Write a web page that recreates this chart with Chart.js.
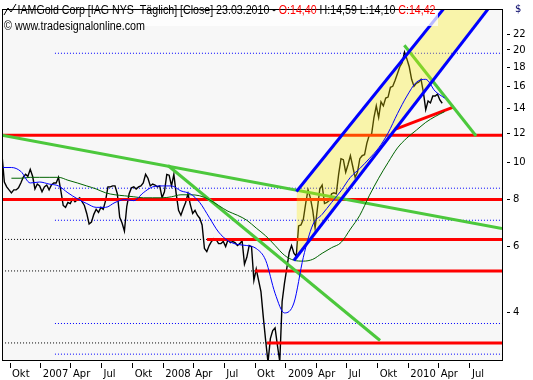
<!DOCTYPE html>
<html>
<head>
<meta charset="utf-8">
<script src="https://cdn.jsdelivr.net/npm/chart.js@4.4.1/dist/chart.umd.min.js"></script>
<style>
  html, body { margin: 0; padding: 0; background: #fff; }
  #wrap { width: 533px; height: 380px; }
</style>
</head>
<body>
<div id="wrap"><canvas id="chart" width="533" height="380"></canvas></div>
<script>
// x axis unit: weeks since the first bar
const xTickWeeks = [3.4, 16.5, 29.3, 42.3, 55.5, 68.5, 81.2, 94.4, 107.5, 120.6, 133.4, 146.4, 159.6, 172.6, 185.5, 198.8];
const xTickLabels = ['Okt', '2007', 'Apr', 'Jul', 'Okt', '2008', 'Apr', 'Jul', 'Okt', '2009', 'Apr', 'Jul', 'Okt', '2010', 'Apr', 'Jul'];
const yTicks = [4, 6, 8, 10, 12, 14, 16, 18, 20, 22];

// weekly closes
const priceClose = [
  10.51, 8.89, 8.63, 8.47, 8.32, 8.47, 8.47, 8.58, 8.84, 9.15,
  9.32, 9.21, 9.61, 9.21, 8.52, 8.78, 8.68, 8.37, 8.63, 8.73,
  8.47, 8.73, 8.84, 8.84, 9.15, 8.42, 7.70, 7.61, 7.84, 7.79,
  8.02, 7.88, 7.98, 8.07, 7.88, 7.70, 7.33, 6.87, 6.95, 7.29,
  7.52, 7.38, 7.61, 7.52, 7.93, 8.63, 8.63, 8.68, 8.68, 8.27,
  7.16, 6.91, 6.58, 7.65, 8.27, 8.58, 8.63, 8.52, 8.63, 8.68,
  8.84, 9.32, 9.10, 8.68, 8.78, 8.73, 8.63, 8.68, 8.07, 8.37,
  9.32, 9.27, 8.68, 9.32, 8.27, 7.47, 7.25, 7.56, 7.84, 8.27,
  7.74, 7.33, 7.47, 7.25, 7.12, 6.83, 5.91, 5.80, 6.02, 6.17,
  6.28, 6.24, 6.09, 6.09, 6.17, 5.98, 6.24, 6.13, 6.17, 6.13,
  6.02, 6.09, 6.20, 5.37, 5.60, 6.02, 5.98, 4.86, 5.21, 4.86,
  4.54, 3.88, 3.36, 2.94, 3.40, 3.57, 3.63, 3.26, 2.95, 4.27,
  4.78, 5.24, 5.77, 6.02, 5.74, 5.63, 6.79, 6.83, 7.07, 7.79,
  8.47, 8.07, 7.47, 6.70, 7.56, 8.52, 8.73, 7.79, 7.84, 7.93,
  8.27, 8.32, 8.27, 9.32, 10.26, 10.20, 9.44, 9.90, 10.45, 9.78,
  9.15, 9.44, 10.26, 10.45, 10.51, 11.29, 11.85, 11.92, 13.21, 14.19,
  13.21, 14.54, 14.19, 14.89, 14.98, 15.91, 16.00, 16.60, 17.30, 18.04,
  18.49, 19.75, 18.93, 18.04, 16.70, 16.00, 16.30, 16.40, 16.70, 15.44,
  13.86, 14.63, 14.45, 15.07, 15.07, 15.25, 14.72, 14.42
];

// moving averages, one value every 4 weeks
const maWeekStep = 4;
const maBlue = [
  9.72, 9.72, 9.49, 8.84, 8.89, 8.78, 8.68, 8.32, 8.02, 7.79,
  7.61, 7.61, 7.84, 7.98, 7.93, 8.32, 8.63, 8.68, 8.68, 8.42,
  8.27, 7.84, 7.16, 6.54, 6.20, 6.06, 6.02, 5.91, 5.50, 4.49,
  3.98, 4.23, 5.60, 6.83, 7.29, 7.84, 8.42, 9.15, 9.66, 10.26,
  10.96, 12.01, 13.53, 15.07, 16.40, 16.70, 15.53, 14.89
];
const maGreen = [
  null, 9.10, 9.10, 9.15, 9.15, 9.15, 9.15, 8.99, 8.84, 8.68,
  8.52, 8.32, 8.22, 8.17, 8.12, 8.07, 8.07, 8.07, 8.12, 8.22,
  8.22, 8.17, 7.98, 7.70, 7.43, 7.25, 7.03, 6.70, 6.39, 6.02,
  5.67, 5.50, 5.47, 5.53, 5.74, 5.94, 6.13, 6.66, 7.25, 8.17,
  9.10, 10.02, 10.96, 11.65, 12.22, 12.82, 13.29, 13.69
];

// drawn lines: [startWeek, startPrice, endWeek, endPrice]
const greenTrends = [
  [0, 11.85, 212.4, 6.68],
  [70.5, 9.84, 160.6, 3.36],
  [170.9, 20.59, 201.4, 11.79]
];
const channelUpper = [125.1, 8.39, 211.6, 39.6];
const channelLower = [124.0, 5.49, 211.6, 28.3];
const supportLine = [166.9, 12.29, 192.0, 14.10];

// horizontal levels
const redLevels = [11.85, 7.99, 6.25, 5.15, 3.31];
const redFromWeek = [0, 0, 87.1, 107.5, 112.6];
const fibLevels = [19.6, 8.56, 7.03, 3.73, 3.09];
const fibFromWeek = 22.5;
const lastWeek = 212.4;

Chart.defaults.font.family = '"DejaVu Sans", sans-serif';

const seg = (a) => [{ x: a[0], y: a[1] }, { x: a[2], y: a[3] }];
const line = (data, color, width, order, extra) => Object.assign({
  data: data,
  borderColor: color,
  borderWidth: width,
  pointRadius: 0,
  fill: false,
  tension: 0,
  order: order,
  clip: 0
}, extra || {});

const datasets = [];

fibLevels.forEach((v) => {
  datasets.push(line(seg([fibFromWeek, v, lastWeek, v]), '#0000ff', 1, 7, { borderDash: [1, 2] }));
});
redLevels.forEach((v, i) => {
  if (redFromWeek[i] > 0) {
    datasets.push(line(seg([1.3, v, redFromWeek[i], v]), '#000000', 1, 7, { borderDash: [1, 2] }));
  }
});

datasets.push(line(priceClose.map((v, i) => ({ x: i, y: v })), '#000000', 1.4, 6));

redLevels.forEach((v, i) => {
  datasets.push(line(seg([redFromWeek[i], v, lastWeek, v]), '#ff0000', 3, 5));
});
datasets.push(line(seg(supportLine), '#ff0000', 3, 5));

greenTrends.forEach((t) => {
  datasets.push(line(seg(t), '#4cc83c', 3, 4));
});

// yellow channel area, filled between the two channel lines
datasets.push(line(seg(channelUpper), 'rgba(0,0,0,0)', 0, 3, {
  fill: '+1',
  backgroundColor: 'rgba(255,240,0,0.31)'
}));
datasets.push(line(seg(channelLower), 'rgba(0,0,0,0)', 0, 3));

datasets.push(line(maGreen.map((v, k) => ({ x: k * maWeekStep, y: v })), '#006400', 1, 2, { cubicInterpolationMode: 'monotone' }));
datasets.push(line(maBlue.map((v, k) => ({ x: k * maWeekStep, y: v })), '#0000ff', 1, 1, { cubicInterpolationMode: 'monotone' }));

datasets.push(line(seg(channelUpper), '#0000ff', 3, 0));
datasets.push(line(seg(channelLower), '#0000ff', 3, 0));

const framePlugin = {
  id: 'frame',
  beforeDraw(chart) {
    const { ctx, chartArea: a } = chart;
    ctx.save();
    ctx.fillStyle = '#ffffff';
    ctx.fillRect(0, 0, chart.width, chart.height);
    ctx.fillStyle = '#f7f7f7';
    ctx.fillRect(a.left, a.top, a.right - a.left, a.bottom - a.top);
    ctx.restore();
  },
  afterDraw(chart) {
    const { ctx, chartArea: a } = chart;
    ctx.save();
    ctx.strokeStyle = '#000000';
    ctx.lineWidth = 1;
    ctx.strokeRect(a.left + 0.5, a.top + 0.5, a.right - a.left, a.bottom - a.top);

    // header box
    ctx.fillStyle = 'rgba(255,255,255,0.72)';
    ctx.fillRect(a.left + 1, a.top + 1, 435, 16);

    // small chart icon
    ctx.strokeStyle = '#000000';
    ctx.beginPath();
    ctx.moveTo(4, 15);
    ctx.lineTo(8, 8);
    ctx.lineTo(11, 12);
    ctx.lineTo(16, 4);
    ctx.stroke();

    const parts = [
      ['IAMGold Corp [IAG NYS  Täglich] [Close] 23.03.2010 - ', '#000000'],
      ['O:14,40', '#ff0000'],
      [' H:14,59 L:14,10 ', '#000000'],
      ['C:14,42', '#ff0000']
    ];
    ctx.font = '12px "Liberation Sans"';
    ctx.textBaseline = 'alphabetic';
    const total = parts.reduce((s, p) => s + ctx.measureText(p[0]).width, 0);
    ctx.translate(17.5, 14);
    ctx.scale(418 / total, 1);
    let x = 0;
    parts.forEach((p) => {
      ctx.fillStyle = p[1];
      ctx.fillText(p[0], x, 0);
      x += ctx.measureText(p[0]).width;
    });
    ctx.setTransform(1, 0, 0, 1, 0, 0);

    const sub = '© www.tradesignalonline.com';
    const w = ctx.measureText(sub).width;
    ctx.translate(4, 30);
    ctx.scale(141 / w, 1);
    ctx.fillStyle = '#000000';
    ctx.fillText(sub, 0, 0);
    ctx.setTransform(1, 0, 0, 1, 0, 0);

    ctx.font = '10px "DejaVu Sans"';
    ctx.fillStyle = '#000066';
    ctx.fillText('$', 515, 12);
    ctx.restore();
  }
};

new Chart(document.getElementById('chart'), {
  type: 'line',
  data: { datasets: datasets },
  plugins: [framePlugin],
  options: {
    responsive: false,
    animation: false,
    devicePixelRatio: 1,
    layout: { padding: { left: 2, top: 1, right: 0, bottom: 0 } },
    plugins: {
      legend: { display: false },
      tooltip: { enabled: false }
    },
    scales: {
      x: {
        type: 'linear',
        min: 0,
        max: lastWeek,
        afterBuildTicks: (s) => { s.ticks = xTickWeeks.map((v) => ({ value: v })); },
        afterFit: (s) => { s.height = 20; },
        border: { display: false },
        grid: {
          drawOnChartArea: false,
          tickLength: 8,
          tickColor: '#000000',
          tickBorderDash: [0, 3, 5, 10]
        },
        ticks: {
          autoSkip: false,
          maxRotation: 0,
          align: 'start',
          labelOffset: 2,
          padding: 0,
          color: '#000000',
          font: { size: 10 },
          callback: (v, i) => xTickLabels[i]
        }
      },
      y: {
        type: 'logarithmic',
        position: 'right',
        min: 2.981,
        max: 25.72,
        afterBuildTicks: (s) => { s.ticks = yTicks.map((v) => ({ value: v })); },
        afterFit: (s) => { s.width = 31; },
        border: { display: false },
        grid: {
          drawOnChartArea: false,
          tickLength: 8,
          tickColor: '#000000',
          tickBorderDash: [0, 5, 3, 10]
        },
        ticks: {
          autoSkip: false,
          padding: 3,
          color: '#000000',
          font: { size: 10 },
          callback: (v) => String(v)
        }
      }
    }
  }
});
</script>
</body>
</html>
